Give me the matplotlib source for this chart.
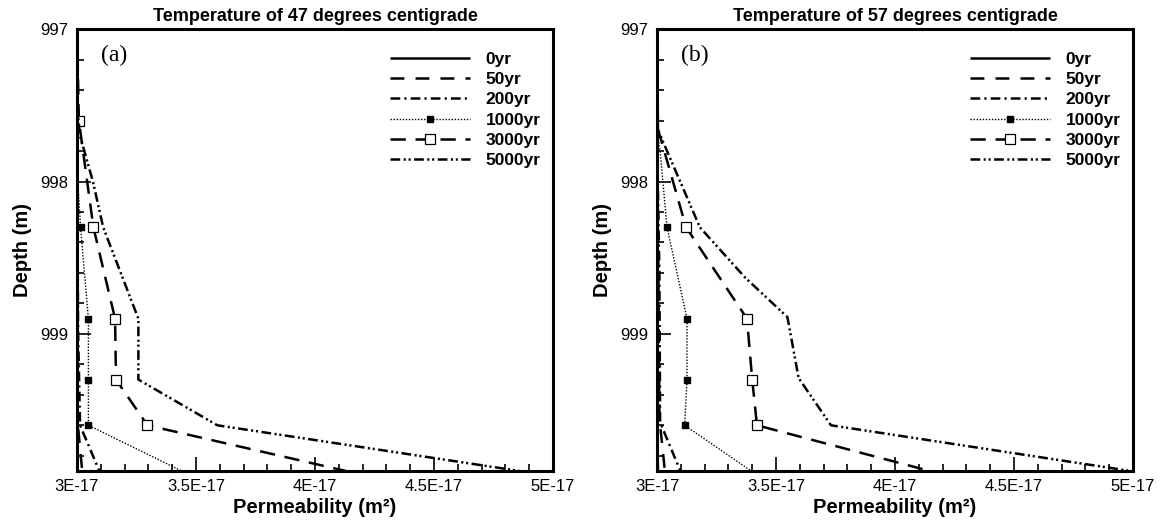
import matplotlib
matplotlib.use("Agg")
import matplotlib.pyplot as plt
import numpy as np

plt.rcParams["font.family"] = ["Liberation Sans", "DejaVu Sans"]
plt.rcParams["lines.scale_dashes"] = False

# permeability in units of 1E-17 m^2, depth in m
labels = ["0yr", "50yr", "200yr", "1000yr", "3000yr", "5000yr"]
x_ticks = [3.0, 3.5, 4.0, 4.5, 5.0]
x_ticklabels = ["3E-17", "3.5E-17", "4E-17", "4.5E-17", "5E-17"]
y_ticks = [997, 998, 999]

# panel (a): 47 degrees
a_perm_0 = [3.0, 3.0, 3.003]
a_depth_0 = [997.0, 999.5, 999.9]
a_perm_50 = [3.0, 3.0, 3.004, 3.022]
a_depth_50 = [997.0, 999.3, 999.6, 999.9]
a_perm_200 = [3.0, 3.0, 3.005, 3.013, 3.094]
a_depth_200 = [997.0, 997.8, 999.0, 999.6, 999.9]
a_perm_1000 = [3.0, 3.0, 3.015, 3.048, 3.048, 3.048, 3.44]
a_depth_1000 = [997.0, 997.9, 998.3, 998.9, 999.3, 999.6, 999.9]
a_perm_3000 = [3.0, 3.008, 3.069, 3.160, 3.164, 3.296, 4.13]
a_depth_3000 = [997.0, 997.6, 998.3, 998.9, 999.3, 999.6, 999.9]
a_perm_5000 = [3.0, 3.0, 3.013, 3.067, 3.11, 3.258, 3.258, 3.59, 4.86]
a_depth_5000 = [997.0, 997.5, 997.7, 998.0, 998.3, 998.9, 999.3, 999.6, 999.9]

# panel (b): 57 degrees
b_perm_0 = [3.0, 3.0, 3.004]
b_depth_0 = [997.0, 999.5, 999.9]
b_perm_50 = [3.0, 3.0, 3.006, 3.01, 3.033]
b_depth_50 = [997.0, 997.7, 998.6, 999.55, 999.9]
b_perm_200 = [3.0, 3.0, 3.01, 3.013, 3.098]
b_depth_200 = [997.0, 997.7, 998.6, 999.58, 999.9]
b_perm_1000 = [3.0, 3.0, 3.013, 3.042, 3.084, 3.126, 3.126, 3.116, 3.396]
b_depth_1000 = [997.0, 997.66, 997.8, 998.3, 998.6, 998.9, 999.3, 999.6, 999.9]
b_perm_3000 = [3.0, 3.004, 3.016, 3.122, 3.378, 3.40, 3.42, 4.146]
b_depth_3000 = [997.0, 997.66, 997.72, 998.3, 998.9, 999.3, 999.6, 999.9]
b_perm_5000 = [3.0, 3.004, 3.034, 3.18, 3.37, 3.548, 3.595, 3.731, 4.99]
b_depth_5000 = [997.0, 997.66, 997.77, 998.3, 998.63, 998.89, 999.29, 999.6, 999.9]

# indices of points carrying markers
a_marks_1000 = [2, 3, 4, 5]
a_marks_3000 = [1, 2, 3, 4, 5]
b_marks_1000 = [3, 5, 6, 7]
b_marks_3000 = [3, 4, 5, 6]

STYLES = [
    dict(linestyle="-", lw=1.8),
    dict(linestyle=(0, (10, 8)), lw=1.8),
    dict(linestyle=(0, (7, 3, 1.5, 3)), lw=1.8),
    dict(linestyle=(0, (1, 1.2)), lw=1.0, marker="s", ms=4, mfc="black", mec="black"),
    dict(linestyle=(0, (11, 7)), lw=1.8, marker="s", ms=6.5, mfc="white", mec="black", mew=0.9),
    dict(linestyle=(0, (7, 2.5, 1.5, 2, 1.5, 2.5)), lw=1.8),
]

fig = plt.figure(figsize=(11.61, 5.31), dpi=100)
ax_a = fig.add_axes([0.0663, 0.113, 0.41, 0.832])
ax_b = fig.add_axes([0.5659, 0.113, 0.41, 0.832])


def draw(ax, series, marks, title, tag):
    for i, (p, d) in enumerate(series):
        kw = dict(STYLES[i])
        if i in marks:
            kw["markevery"] = marks[i]
        ax.plot([v * 1e-17 for v in p], d, color="black", label=labels[i],
                solid_capstyle="butt", dash_capstyle="butt", **kw)
    ax.set_xlim(3e-17, 5e-17)
    ax.set_ylim(999.9, 997.0)
    ax.set_xticks([t * 1e-17 for t in x_ticks])
    ax.set_xticklabels(x_ticklabels)
    ax.set_xticks(np.arange(3.0, 5.01, 0.1) * 1e-17, minor=True)
    ax.set_yticks(y_ticks)
    ax.set_yticklabels([str(t) for t in y_ticks])
    ax.set_yticks(np.arange(997.0, 999.91, 0.2), minor=True)
    ax.tick_params(which="both", direction="in", top=False, right=False,
                   labelsize=12, width=1.2, pad=6)
    ax.tick_params(which="major", length=10)
    ax.tick_params(which="minor", length=5)
    for s in ax.spines.values():
        s.set_linewidth(2.2)
    ax.set_title(title, fontsize=13, fontweight="bold", pad=6)
    ax.set_xlabel("Permeability (m²)", fontsize=14.5, fontweight="bold", labelpad=3)
    ax.set_ylabel("Depth (m)", fontsize=14.5, fontweight="bold", labelpad=6)
    ax.text(0.05, 0.94, tag, transform=ax.transAxes, fontsize=17,
            family="Liberation Serif", va="center", ha="left")
    ax.legend(loc="upper left", bbox_to_anchor=(0.625, 0.985), frameon=False,
              handlelength=4.6, handletextpad=0.9, labelspacing=0.3, numpoints=1,
              prop=dict(size=12.5, weight="bold"))


draw(ax_a,
     [(a_perm_0, a_depth_0), (a_perm_50, a_depth_50), (a_perm_200, a_depth_200),
      (a_perm_1000, a_depth_1000), (a_perm_3000, a_depth_3000), (a_perm_5000, a_depth_5000)],
     {3: a_marks_1000, 4: a_marks_3000},
     "Temperature of 47 degrees centigrade", "(a)")
draw(ax_b,
     [(b_perm_0, b_depth_0), (b_perm_50, b_depth_50), (b_perm_200, b_depth_200),
      (b_perm_1000, b_depth_1000), (b_perm_3000, b_depth_3000), (b_perm_5000, b_depth_5000)],
     {3: b_marks_1000, 4: b_marks_3000},
     "Temperature of 57 degrees centigrade", "(b)")

fig.savefig("out.png", dpi=100)
